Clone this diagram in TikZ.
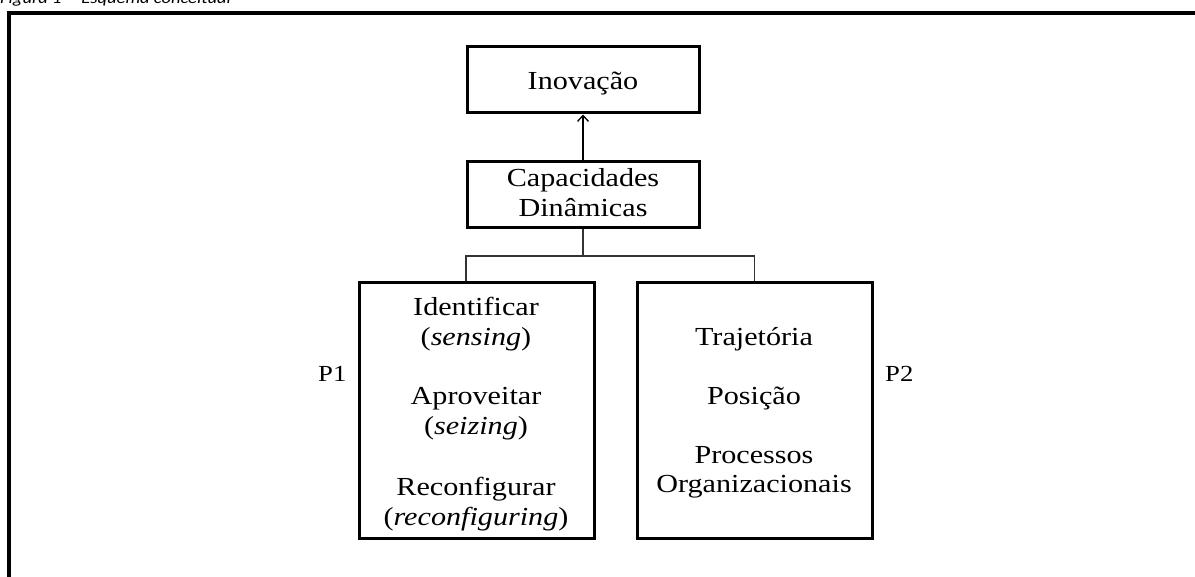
\documentclass[tikz,border=0pt]{standalone}
\usepackage{fontspec}
\usepackage{graphicx}
\setmainfont{Liberation Serif}
\newfontfamily\capfont{Carlito}
\newcommand{\sxw}[1]{\scalebox{1.16}[1]{#1}}
\usetikzlibrary{arrows.meta}
\begin{document}
\begin{tikzpicture}[x=1pt,y=-1pt,
  box/.style={draw, line width=3pt, inner sep=0pt, minimum width=232pt, minimum height=66pt},
  bigbox/.style={draw, line width=3pt, inner sep=0pt, minimum width=235pt, minimum height=255pt},
  txt/.style={anchor=base, inner sep=0pt, font=\fontsize{26}{30}\selectfont},
  lbl/.style={anchor=base west, inner sep=0pt, font=\fontsize{23}{27}\selectfont},
  conn/.style={draw=black!80, line width=1.3pt},
  arr/.style={draw=black, line width=1.3pt, -{Straight Barb[length=6pt,width=11pt,line width=1.3pt]}}
]
\useasboundingbox (0,0) rectangle (1195,577);
\begin{scope}
\clip (0,0) rectangle (1195,577);
\node[anchor=base west, inner sep=0pt, font=\capfont\itshape\fontsize{16}{19}\selectfont] (cap) at (0,4) {\sxw{Figura 1 -- Esquema conceitual}};
\draw[line width=4pt] (9,13) coordinate (f1) rectangle (1220,600) coordinate (f2);
\end{scope}

\node[box] (ino) at (583,80) {};
\node[box] (cd) at (583,195) {};
\node[bigbox] (lb) at (476.5,410.5) {};
\node[bigbox] (rb) at (754.5,410.5) {};

\node[txt] (tino) at (583,90) {\sxw{Inovação}};
\node[txt] (tcd1) at (583,187) {\sxw{Capacidades}};
\node[txt] (tcd2) at (583,217) {\sxw{Dinâmicas}};

\node[txt] (l1) at (476,316) {\sxw{Identificar}};
\node[txt] (l2) at (476,346) {\sxw{(\textit{sensing})}};
\node[txt] (l3) at (476,405) {\sxw{Aproveitar}};
\node[txt] (l4) at (476,435) {\sxw{(\textit{seizing})}};
\node[txt] (l5) at (476,495) {\sxw{Reconfigurar}};
\node[txt] (l6) at (476,525) {\sxw{(\textit{reconfiguring})}};

\node[txt] (r1) at (754,346) {\sxw{Trajetória}};
\node[txt] (r2) at (754,405) {\sxw{Posição}};
\node[txt] (r3) at (754,463) {\sxw{Processos}};
\node[txt] (r4) at (754,493) {\sxw{Organizacionais}};

\node[lbl] (p1) at (318,382) {\sxw{P1}};
\node[lbl] (p2) at (885,382) {\sxw{P2}};

\coordinate (lj) at (466,256);
\coordinate (rj) at (rb.north |- lj);
\draw[arr] (cd.north) -- (ino.south);
\draw[conn] (cd.south) -- (cd.south |- lj);
\draw[conn] (lb.north -| lj) -- (lj) -- (rj) -- (rb.north);
\end{tikzpicture}
\end{document}
